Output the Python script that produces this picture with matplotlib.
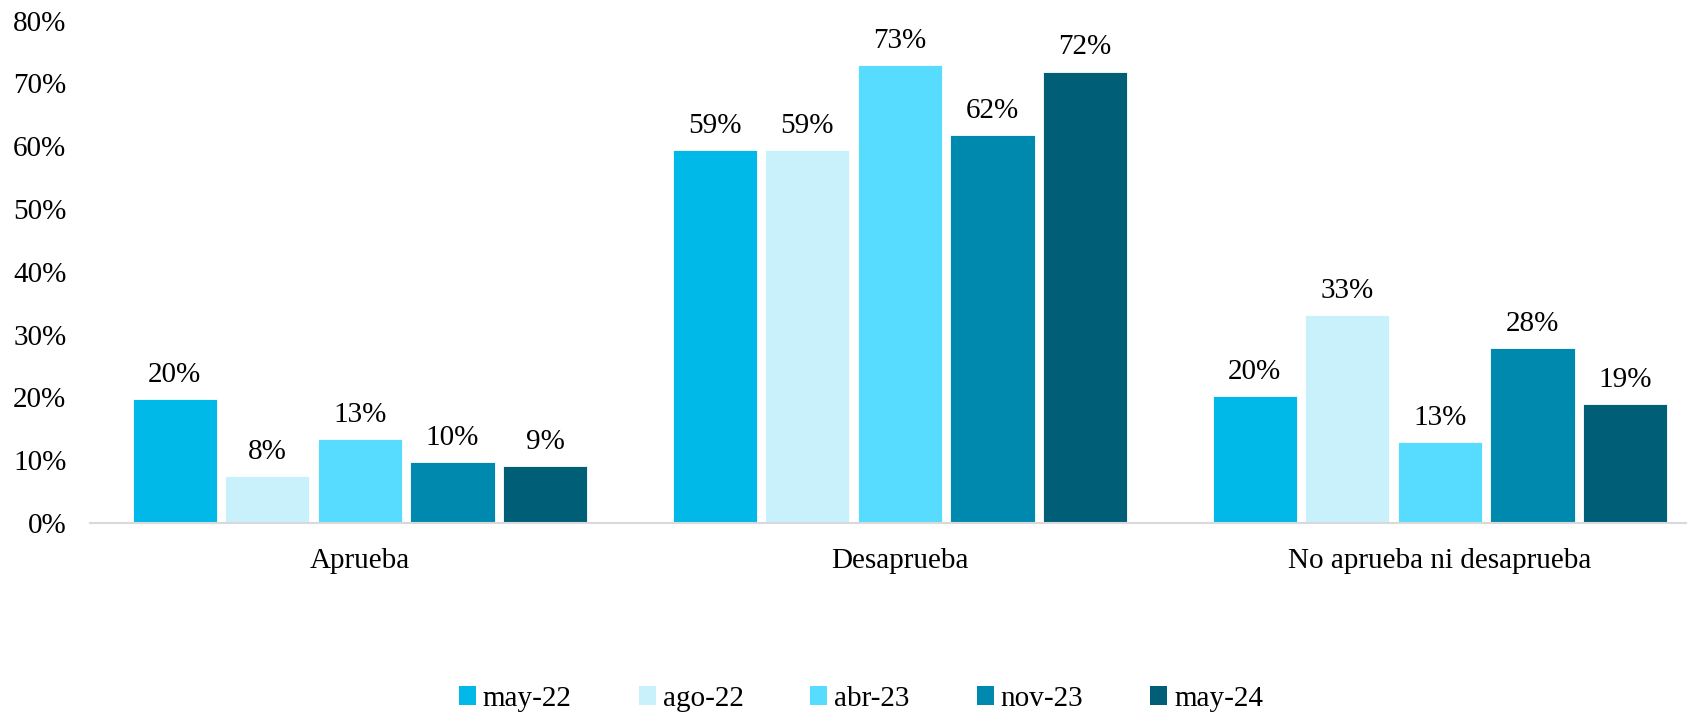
import matplotlib.pyplot as plt
import numpy as np
from matplotlib.patches import Patch

plt.rcParams['font.family'] = ['Liberation Serif', 'DejaVu Serif']

# data
categories = ['Aprueba', 'Desaprueba', 'No aprueba ni desaprueba']
series = ['may-22', 'ago-22', 'abr-23', 'nov-23', 'may-24']
may22 = [19.7, 59.4, 20.2]
ago22 = [7.5, 59.4, 33.1]
abr23 = [13.4, 73.0, 12.9]
nov23 = [9.7, 61.8, 27.9]
may24 = [9.0, 71.9, 19.0]
values = [may22, ago22, abr23, nov23, may24]
colors = ['#00B9E8', '#C9F1FC', '#57DBFE', '#0089AF', '#005E77']

fig = plt.figure(figsize=(16.95, 7.13), dpi=100)
ax = fig.add_axes([0.0531, 0.2665, 0.9416, 0.7045])

x = np.arange(len(categories))
step = 0.1715
width = 0.156
for i, (vals, c) in enumerate(zip(values, colors)):
    pos = x + (i - 2) * step
    bars = ax.bar(pos, vals, width=width, color=c, edgecolor='white', linewidth=0.6)
    for b, v in zip(bars, vals):
        ax.annotate('%d%%' % round(v), (b.get_x() + b.get_width() / 2, v),
                    xytext=(0, 8), textcoords='offset points',
                    ha='center', va='bottom', fontsize=21)

ax.set_xlim(-0.5, 2.456)
ax.set_ylim(0, 80)
ax.set_yticks(range(0, 81, 10))
ax.set_yticklabels(['%d%%' % t for t in range(0, 81, 10)], fontsize=21)
ax.set_xticks(x)
ax.set_xticklabels(categories, fontsize=21)
ax.tick_params(axis='both', length=0)
ax.tick_params(axis='y', pad=17)
ax.tick_params(axis='x', pad=18)
for s in ['top', 'right', 'left']:
    ax.spines[s].set_visible(False)
ax.spines['bottom'].set_color('#D9D9D9')
ax.spines['bottom'].set_linewidth(1.5)

handles = [Patch(facecolor=c, edgecolor='none') for c in colors]
fig.legend(handles, series, loc='center', bbox_to_anchor=(0.508, 0.02), ncol=5,
           frameon=False, fontsize=21, handlelength=0.58, handleheight=0.58,
           handletextpad=0.24, columnspacing=2.3)

fig.savefig('out.png', dpi=100)
